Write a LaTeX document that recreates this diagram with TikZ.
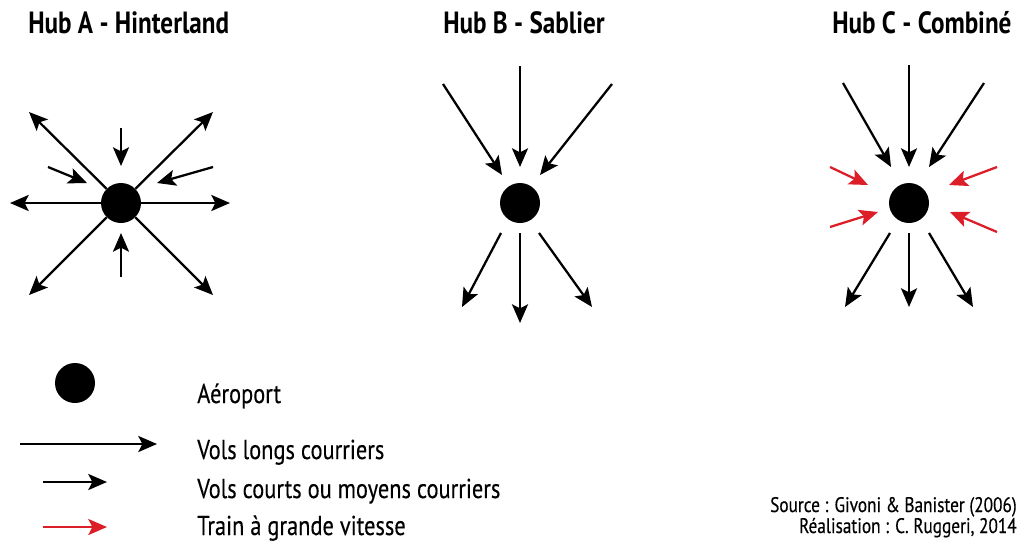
\documentclass[tikz,border=0pt]{standalone}
\usepackage{fontspec}
\setmainfont[FakeStretch=0.82, UprightFeatures={FakeBold=0.3}]{PT Sans}
\usetikzlibrary{positioning}
\usetikzlibrary{arrows.meta}
\usetikzlibrary{calc}

\definecolor{tgvred}{RGB}{220,30,40}

\tikzset{
    hub/.style={circle, fill=black, minimum size=30pt, inner sep=0pt},
    flight/.style={-{Stealth[length=14pt, width=12pt, inset=3pt]}, line width=1.7pt},
    train/.style={flight, draw=tgvred, fill=tgvred},
    hubtitle/.style={font=\bfseries\fontsize{23}{25}\selectfont, anchor=base west, inner sep=0pt},
    legendtext/.style={font=\fontsize{20.5}{22}\selectfont, anchor=base west, inner sep=0pt},
    sourcetext/.style={font=\fontsize{15.8}{17}\selectfont, anchor=base east, inner sep=0pt}
}

\begin{document}
\begin{tikzpicture}[x=0.75pt, y=-0.75pt]

        \useasboundingbox (0,0) rectangle (1019,547);

        % Titles
        \node[hubtitle] (titleA) at (28,33) {Hub A - Hinterland};
        \node[hubtitle] (titleB) at (443,33) {Hub B - Sablier};
        \node[hubtitle] (titleC) at (832,33) {Hub C - Combiné};

        % Hub A: hinterland
        \node[hub] (hA) at (121,203) {};

        \coordinate (longAl) at (10,203);   \coordinate (longAr) at (230,203);
        \coordinate (longAtl) at (29,112);  \coordinate (longAtr) at (213,112);
        \coordinate (longAbl) at (29,295);  \coordinate (longAbr) at (213,295);

        \foreach \n in {l,r,tl,tr,bl,br} {
            \draw[flight] (hA) -- (longA\n);
        }

        \coordinate (sAt0) at (121,128);  \coordinate (sAt1) at (121,166);
        \coordinate (sAb0) at (121,277);  \coordinate (sAb1) at (121,233);
        \coordinate (sAl0) at (48,167);   \coordinate (sAl1) at (87,183);
        \coordinate (sAr0) at (213,167);  \coordinate (sAr1) at (157,183);

        \foreach \n in {t,b,l,r} {
            \draw[flight] (sA\n0) -- (sA\n1);
        }

        % Hub B: sablier
        \node[hub] (hB) at (520,203) {};

        \coordinate (inBl0) at (443,84);   \coordinate (inBl1) at (502,175);
        \coordinate (inBm0) at (520,66);   \coordinate (inBm1) at (520,167);
        \coordinate (inBr0) at (612,84);   \coordinate (inBr1) at (540,175);
        \coordinate (outBl0) at (501,233); \coordinate (outBl1) at (462,307);
        \coordinate (outBm0) at (520,233); \coordinate (outBm1) at (520,323);
        \coordinate (outBr0) at (539,233); \coordinate (outBr1) at (592,307);

        \foreach \n in {l,m,r} {
            \draw[flight] (inB\n0) -- (inB\n1);
            \draw[flight] (outB\n0) -- (outB\n1);
        }

        % Hub C: combine
        \node[hub] (hC) at (909,203) {};

        \coordinate (inCl0) at (843,83);   \coordinate (inCl1) at (891,167);
        \coordinate (inCm0) at (909,65);   \coordinate (inCm1) at (909,167);
        \coordinate (inCr0) at (984,83);   \coordinate (inCr1) at (929,167);
        \coordinate (outCl0) at (890,233); \coordinate (outCl1) at (845,307);
        \coordinate (outCm0) at (909,233); \coordinate (outCm1) at (909,307);
        \coordinate (outCr0) at (929,233); \coordinate (outCr1) at (973,307);

        \foreach \n in {l,m,r} {
            \draw[flight] (inC\n0) -- (inC\n1);
            \draw[flight] (outC\n0) -- (outC\n1);
        }

        \coordinate (tgvCtl0) at (830,167); \coordinate (tgvCtl1) at (868,185);
        \coordinate (tgvCbl0) at (830,227); \coordinate (tgvCbl1) at (878,212);
        \coordinate (tgvCtr0) at (997,167); \coordinate (tgvCtr1) at (949,185);
        \coordinate (tgvCbr0) at (997,232); \coordinate (tgvCbr1) at (950,212);

        \foreach \n in {tl,bl,tr,br} {
            \draw[train] (tgvC\n0) -- (tgvC\n1);
        }

        % Legend
        \node[hub] (keyHub) at (75,383) {};
        \node[legendtext] (keyHubText) at (197,403) {Aéroport};

        \coordinate (keyLong0) at (20,444);  \coordinate (keyLong1) at (157,444);
        \draw[flight] (keyLong0) -- (keyLong1);
        \node[legendtext] (keyLongText) at (197,459) {Vols longs courriers};

        \coordinate (keyShort0) at (43,482); \coordinate (keyShort1) at (107,482);
        \draw[flight] (keyShort0) -- (keyShort1);
        \node[legendtext] (keyShortText) at (197,498) {Vols courts ou moyens courriers};

        \coordinate (keyTrain0) at (43,527); \coordinate (keyTrain1) at (107,527);
        \draw[train] (keyTrain0) -- (keyTrain1);
        \node[legendtext] (keyTrainText) at (197,535) {Train à grande vitesse};

        % Source
        \node[sourcetext] (source) at (1017,512) {Source : Givoni \& Banister (2006)};
        \node[sourcetext] (credit) at (1017,533) {Réalisation : C. Ruggeri, 2014};

    \end{tikzpicture}
\end{document}
